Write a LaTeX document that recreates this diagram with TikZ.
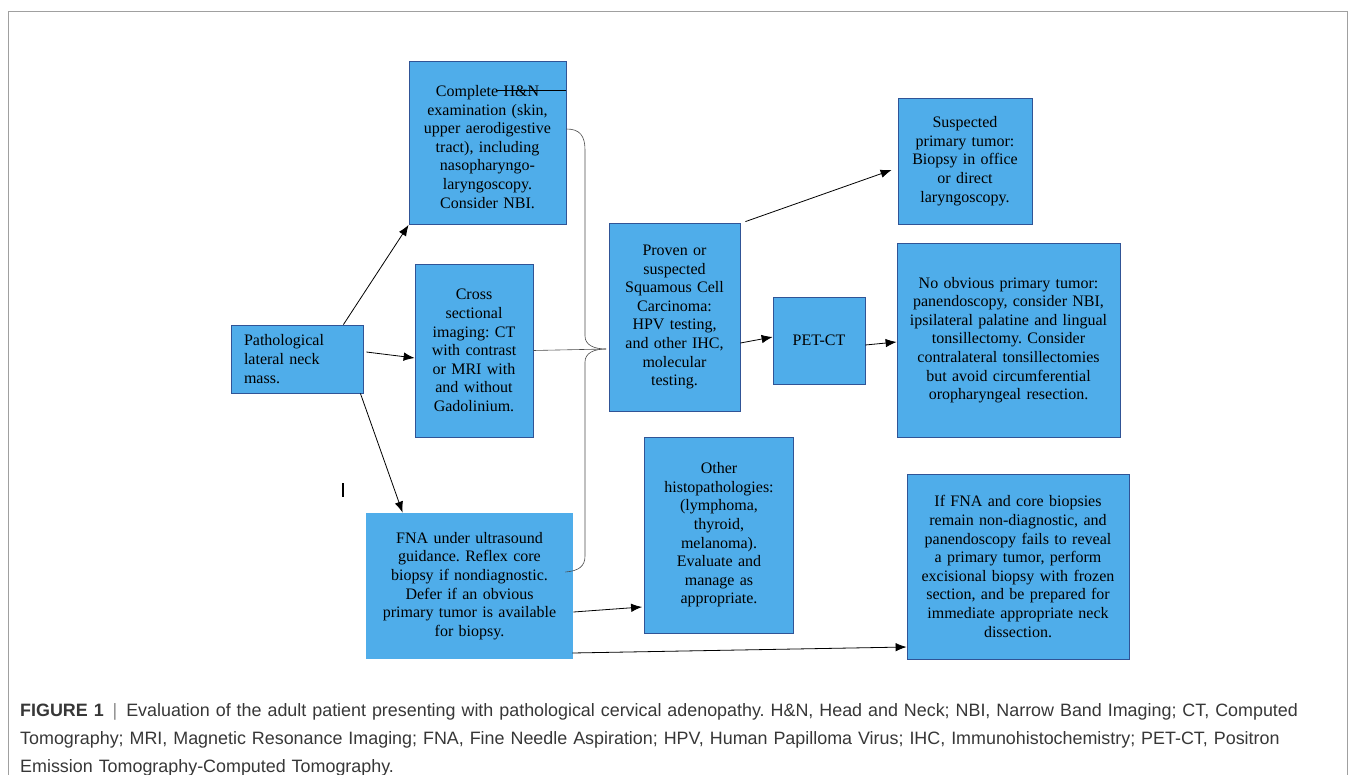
\documentclass[tikz,border=0pt]{standalone}
\usepackage{fontspec}
\setmainfont{Liberation Serif}
\newfontfamily\capfont{Liberation Sans}
\usetikzlibrary{arrows.meta,calc,positioning}
\definecolor{boxblue}{RGB}{79,173,234}
\definecolor{boxedge}{RGB}{48,84,150}
\definecolor{framegray}{RGB}{160,160,160}
\definecolor{capgray}{RGB}{55,55,55}
\frenchspacing

\begin{document}
\begin{tikzpicture}[x=1pt, y=-1pt,
    card/.style={rectangle, draw=boxedge, fill=boxblue, line width=0.8pt, inner sep=0pt,
    align=center, text=black, font=\fontsize{16}{18.6}\selectfont},
    plaincard/.style={card, draw=none},
    link/.style={-{Latex[length=11pt,width=8.5pt]}, line width=0.8pt},
    bracket/.style={draw=black!70, line width=0.6pt}]
    \useasboundingbox (0,0) rectangle (1354,775);

    % outer frame, open at the bottom
    \draw[framegray, line width=0.8pt] (8,775) -- (8,11) -- (1347,11) -- (1347,775);

    \node (patho) [card, align=left, text width=106pt, minimum width=132pt, minimum height=68pt] at (297,359)
    {Pathological\\ lateral neck\\ mass.};

    \node (exam) [card, text width=150pt, minimum width=157pt, minimum height=163pt] at (487.5,143)
    {\rule{0pt}{19pt}Complete H\&N\\ examination (skin,\\ upper aerodigestive\\ tract), including\\ nasopharyngo-\\ laryngoscopy.\\ Consider NBI.};

    \node (cross) [card, text width=112pt, minimum width=118pt, minimum height=173pt] at (474,350.5)
    {Cross\\ sectional\\ imaging: CT\\ with contrast\\ or MRI with\\ and without\\ Gadolinium.};

    \node (fna) [plaincard, text width=200pt, minimum width=207pt, minimum height=146pt] at (469.5,586)
    {FNA under ultrasound\\ guidance. Reflex core\\ biopsy if nondiagnostic.\\ Defer if an obvious\\ primary tumor is available\\ for biopsy.};

    \node (proven) [card, text width=125pt, minimum width=131pt, minimum height=188pt] at (674.5,317)
    {Proven or\\ suspected\\ Squamous Cell\\ Carcinoma:\\ HPV testing,\\ and other IHC,\\ molecular\\ testing.};

    \node (pet) [card, text width=86pt, minimum width=92pt, minimum height=87pt] at (819,340.5) {PET-CT};

    \node (susp) [card, text width=128pt, minimum width=134pt, minimum height=126pt] at (965,161)
    {Suspected\\ primary tumor:\\ Biopsy in office\\ or direct\\ laryngoscopy.};

    \node (noobv) [card, text width=217pt, minimum width=223pt, minimum height=194pt] at (1008.5,340)
    {No obvious primary tumor:\\ panendoscopy, consider NBI,\\ ipsilateral palatine and lingual\\ tonsillectomy. Consider\\ contralateral tonsillectomies\\ but avoid circumferential\\ oropharyngeal resection.};

    \node (other) [card, text width=143pt, minimum width=149pt, minimum height=196pt] at (719,535)
    {Other\\ histopathologies:\\ (lymphoma,\\ thyroid,\\ melanoma).\\ Evaluate and\\ manage as\\ appropriate.};

    \node (iffna) [card, text width=216pt, minimum width=222pt, minimum height=185pt] at (1018,566.5)
    {If FNA and core biopsies\\ remain non-diagnostic, and\\ panendoscopy fails to reveal\\ a primary tumor, perform\\ excisional biopsy with frozen\\ section, and be prepared for\\ immediate appropriate neck\\ dissection.};

    % arrows
    \draw[link] ([xshift=-20pt]patho.north east) -- (exam.south west);
    \draw[link] ([xshift=3pt,yshift=7pt]patho.east) -- ([yshift=-7.5pt]cross.west);
    \draw[link] ([xshift=-3pt]patho.south east) -- ([xshift=37pt]fna.north west);
    \draw[link] ([xshift=5pt,yshift=1pt]proven.north east) -- ([xshift=-6pt,yshift=-9pt]susp.west);
    \draw[link] ([yshift=-26pt]proven.east) -- ([yshift=3.5pt]pet.west);
    \draw[link] ([yshift=-4.5pt]pet.east) -- ([yshift=-2pt]noobv.west);
    \draw[link] ([yshift=-26pt]fna.east) -- ([xshift=-2pt,yshift=-72pt]other.west);
    \draw[link] ([xshift=-1pt,yshift=-67pt]fna.east) -- ([yshift=-80.5pt]iffna.west);

    % brace gathering the three work-up boxes
    \coordinate (tip) at (606,349);
    \draw[bracket] ([yshift=14pt]exam.east) .. controls (580,129) and (585,136) .. (585,150)
        -- (585,336) .. controls (585,345) and (594,349) .. (tip)
        .. controls (594,349) and (585,353) .. (585,362)
        -- (585,556) .. controls (585,566) and (579,571) .. ([xshift=-8pt,yshift=14pt]fna.east);
    \draw[bracket] (cross.east) -- (tip);

    % stray strokes
    \draw[line width=0.6pt] ([xshift=-69pt,yshift=53pt]exam.east) -- ([yshift=53pt]exam.east);
    \draw[line width=1.3pt] (343,483) -- (343,497);

    \node (caption) [anchor=north west, inner sep=0pt, text width=1320pt, align=left, text=capgray,
        font=\capfont\fontsize{17.9}{28}\selectfont] at (20,703.5)
    {{\bfseries FIGURE 1}\enspace{\color{black!45}|}\enspace Evaluation of the adult patient presenting with pathological cervical adenopathy. H\&N, Head and Neck; NBI, Narrow Band Imaging; CT, Computed\\
    Tomography; MRI, Magnetic Resonance Imaging; FNA, Fine Needle Aspiration; HPV, Human Papilloma Virus; IHC, Immunohistochemistry; PET-CT, Positron\\
    Emission Tomography-Computed Tomography.};
\end{tikzpicture}
\end{document}
